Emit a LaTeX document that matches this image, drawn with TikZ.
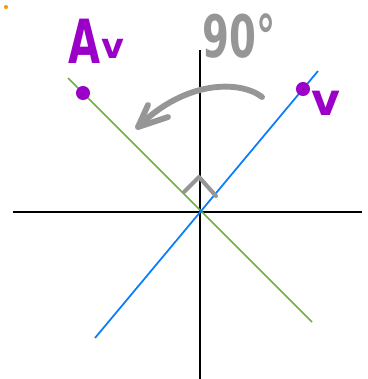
\documentclass[tikz,border=0pt]{standalone}
\usepackage{fontspec}
\usepackage{graphicx}
\setmainfont{DejaVu Sans}
\definecolor{vecblue}{RGB}{10,125,250}
\definecolor{vecgreen}{RGB}{105,180,60}
\definecolor{inkpurple}{RGB}{155,0,200}
\definecolor{inkgray}{RGB}{150,150,150}
\definecolor{inkorange}{RGB}{250,150,10}
\tikzset{
  axis/.style={black, line width=1.6pt},
  vline/.style={line width=1.5pt},
  pen/.style={inkgray, line width=5pt, line cap=round, line join=round},
  dot/.style={ellipse, fill=inkpurple, inner sep=0pt, minimum width=#1, minimum height=#1},
  label/.style={inkpurple, inner sep=0pt, font=\fontsize{#1}{#1}\selectfont\bfseries}
}
\usetikzlibrary{shapes.geometric}
\begin{document}
\begin{tikzpicture}[x=0.03cm, y=-0.03cm]
\useasboundingbox (0,0) rectangle (368,379);
% axes
\coordinate (o) at (200,212);
\coordinate (xl) at (13,212);
\coordinate (xr) at (362,212);
\coordinate (yt) at (200,50);
\coordinate (yb) at (200,379);
\draw[axis] (xl) -- (xr);
\draw[axis] (yt) -- (yb);
% the two lines
\coordinate (g1) at (68,78);
\coordinate (g2) at (312,322);
\coordinate (b1) at (95,338);
\coordinate (b2) at (318,71);
\draw[vline, vecgreen] (g1) -- (g2);
\draw[vline, vecblue] (b1) -- (b2);
% right angle
\coordinate (r1) at (184,192);
\coordinate (r2) at (199,177);
\coordinate (r3) at (216,196);
\draw[pen, line width=3.5pt] (r1) -- (r2) -- (r3);
% turning arrow
\coordinate (t0) at (262,97);
\coordinate (tip) at (138,127);
\coordinate (h1) at (148,105);
\coordinate (h2) at (168,117);
\draw[pen] (t0) .. controls (240,80) and (185,80) .. (tip);
\draw[pen] (h1) -- (tip) -- (h2);
% dots
\node[dot=12pt, rotate=20] (pa) at (83,93) {};
\node[dot=12pt] (pv) at (303,89) {};
\node[circle, fill=inkorange, inner sep=0pt, minimum size=3.5pt] (o0) at (6,7) {};
% labels
\node[label=52, anchor=base] (ta) at (85,63) {\scalebox{0.68}[1]{A}};
\node[label=30, anchor=base] (tv) at (113,58) {v};
\node[label=38, anchor=base] (tv2) at (326,115) {v};
\node[label=50, anchor=base, text=inkgray] (deg) at (239,57) {\scalebox{0.66}[1]{90°}};
\end{tikzpicture}
\end{document}
